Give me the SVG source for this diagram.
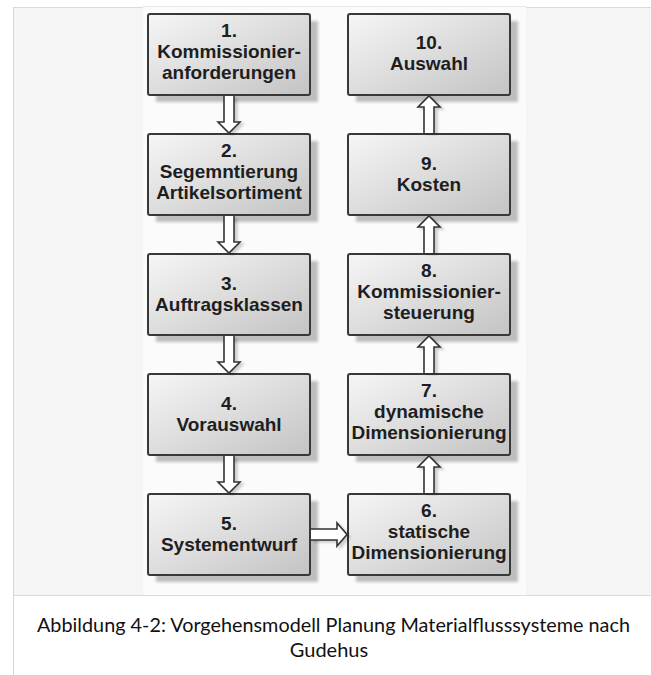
<svg xmlns="http://www.w3.org/2000/svg" width="651" height="675" viewBox="0 0 651 675">
  <defs>
    <linearGradient id="boxFill" x1="0" y1="0" x2="1" y2="1">
      <stop offset="0" stop-color="#f6f6f6"/>
      <stop offset="1" stop-color="#c3c3c3"/>
    </linearGradient>
    <filter id="soft" x="-10%" y="-10%" width="120%" height="120%">
      <feGaussianBlur stdDeviation="1.4"/>
    </filter>
    <filter id="arrowShadow" x="-30%" y="-30%" width="160%" height="160%">
      <feOffset in="SourceAlpha" dx="3" dy="2" result="o"/>
      <feGaussianBlur in="o" stdDeviation="1.2" result="b"/>
      <feFlood flood-color="#000" flood-opacity="0.18"/>
      <feComposite in2="b" operator="in" result="s"/>
      <feMerge><feMergeNode in="s"/><feMergeNode in="SourceGraphic"/></feMerge>
    </filter>
  </defs>
  <style>
    .shadow { fill: #bdbdbd; filter: url(#soft); }
    .box { fill: url(#boxFill); stroke: #383838; stroke-width: 2; }
    .label { font-family: "Liberation Sans", Arial, sans-serif; font-weight: bold; font-size: 19px; fill: #1e1e1e; text-anchor: middle; }
    .arrow { fill: #ffffff; stroke: #333333; stroke-width: 1.6; stroke-linejoin: miter; filter: url(#arrowShadow); }
    .caption { font-family: Lato, "Open Sans", sans-serif; font-size: 20px; fill: #111111; text-anchor: middle; }
  </style>

  <!-- page background and figure frame -->
  <rect x="0" y="0" width="651" height="675" fill="#ffffff"/>
  <rect x="13" y="7" width="638" height="588" fill="#f5f5f5"/>
  <line x1="13" y1="7.5" x2="651" y2="7.5" stroke="#dadada" stroke-width="1"/>
  <line x1="13.5" y1="7" x2="13.5" y2="675" stroke="#d6d6d6" stroke-width="1"/>
  <rect x="143" y="6" width="383" height="589" fill="#fbfbfb"/>
  <line x1="143" y1="6.5" x2="526" y2="6.5" stroke="#e8e8e8" stroke-width="1"/>
  <line x1="13" y1="595.5" x2="651" y2="595.5" stroke="#dcdcdc" stroke-width="1"/>

  <!-- process steps -->
  <g id="step1">
    <rect class="shadow" x="156" y="21" width="162" height="81"/>
    <rect class="box" x="148" y="14" width="162" height="81" rx="2"/>
    <text class="label" x="229" y="37">1.</text>
    <text class="label" x="229" y="58">Kommissionier-</text>
    <text class="label" x="229" y="79">anforderungen</text>
  </g>
  <g id="step2">
    <rect class="shadow" x="156" y="141" width="162" height="81"/>
    <rect class="box" x="148" y="134" width="162" height="81" rx="2"/>
    <text class="label" x="229" y="157">2.</text>
    <text class="label" x="229" y="178">Segemntierung</text>
    <text class="label" x="229" y="199">Artikelsortiment</text>
  </g>
  <g id="step3">
    <rect class="shadow" x="156" y="261" width="162" height="81"/>
    <rect class="box" x="148" y="254" width="162" height="81" rx="2"/>
    <text class="label" x="229" y="290">3.</text>
    <text class="label" x="229" y="311">Auftragsklassen</text>
  </g>
  <g id="step4">
    <rect class="shadow" x="156" y="381" width="162" height="81"/>
    <rect class="box" x="148" y="374" width="162" height="81" rx="2"/>
    <text class="label" x="229" y="410">4.</text>
    <text class="label" x="229" y="431">Vorauswahl</text>
  </g>
  <g id="step5">
    <rect class="shadow" x="156" y="501" width="162" height="81"/>
    <rect class="box" x="148" y="494" width="162" height="81" rx="2"/>
    <text class="label" x="229" y="530">5.</text>
    <text class="label" x="229" y="551">Systementwurf</text>
  </g>
  <g id="step6">
    <rect class="shadow" x="356" y="501" width="162" height="81"/>
    <rect class="box" x="348" y="494" width="162" height="81" rx="2"/>
    <text class="label" x="429" y="517">6.</text>
    <text class="label" x="429" y="538">statische</text>
    <text class="label" x="429" y="559">Dimensionierung</text>
  </g>
  <g id="step7">
    <rect class="shadow" x="356" y="381" width="162" height="81"/>
    <rect class="box" x="348" y="374" width="162" height="81" rx="2"/>
    <text class="label" x="429" y="397">7.</text>
    <text class="label" x="429" y="418">dynamische</text>
    <text class="label" x="429" y="439">Dimensionierung</text>
  </g>
  <g id="step8">
    <rect class="shadow" x="356" y="261" width="162" height="81"/>
    <rect class="box" x="348" y="254" width="162" height="81" rx="2"/>
    <text class="label" x="429" y="277">8.</text>
    <text class="label" x="429" y="298">Kommissionier-</text>
    <text class="label" x="429" y="319">steuerung</text>
  </g>
  <g id="step9">
    <rect class="shadow" x="356" y="141" width="162" height="81"/>
    <rect class="box" x="348" y="134" width="162" height="81" rx="2"/>
    <text class="label" x="429" y="170">9.</text>
    <text class="label" x="429" y="191">Kosten</text>
  </g>
  <g id="step10">
    <rect class="shadow" x="356" y="21" width="162" height="81"/>
    <rect class="box" x="348" y="14" width="162" height="81" rx="2"/>
    <text class="label" x="429" y="49">10.</text>
    <text class="label" x="429" y="70">Auswahl</text>
  </g>

  <!-- hollow block arrows between steps -->
  <g id="connectors">
    <path class="arrow" d="M224,96 V122 H218 L229,133 L240,122 H234 V96"/>
    <path class="arrow" d="M224,216 V242 H218 L229,253 L240,242 H234 V216"/>
    <path class="arrow" d="M224,336 V362 H218 L229,373 L240,362 H234 V336"/>
    <path class="arrow" d="M224,456 V482 H218 L229,493 L240,482 H234 V456"/>
    <path class="arrow" d="M311,529 H337 V523 L347,534.5 L337,546 V540 H311"/>
    <path class="arrow" d="M424,493 V467 H418 L429,456 L440,467 H434 V493"/>
    <path class="arrow" d="M424,373 V347 H418 L429,336 L440,347 H434 V373"/>
    <path class="arrow" d="M424,253 V227 H418 L429,216 L440,227 H434 V253"/>
    <path class="arrow" d="M424,133 V107 H418 L429,96 L440,107 H434 V133"/>
  </g>

  <!-- figure caption -->
  <text class="caption" x="333.5" y="632" textLength="593" lengthAdjust="spacingAndGlyphs">Abbildung 4-2: Vorgehensmodell Planung Materialflusssysteme nach</text>
  <text class="caption" x="329" y="657">Gudehus</text>
</svg>
